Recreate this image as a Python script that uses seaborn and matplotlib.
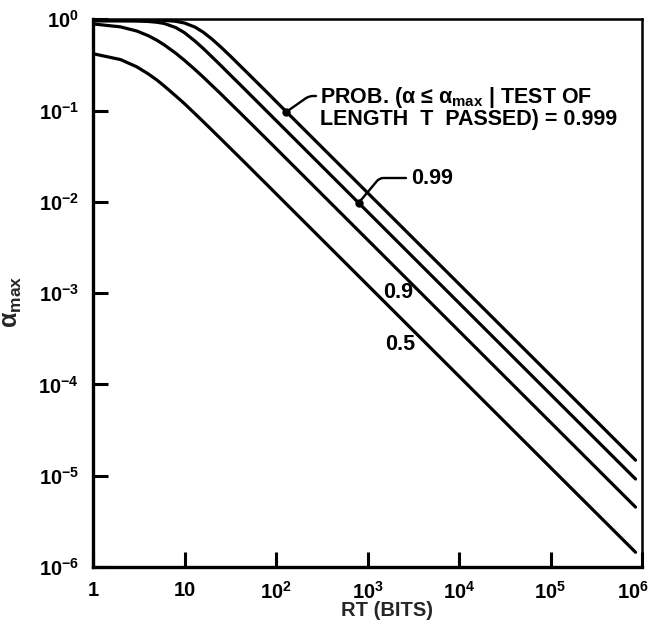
import numpy as np
import pandas as pd
import matplotlib
matplotlib.use("Agg")
import matplotlib.pyplot as plt
import matplotlib.transforms as mtransforms
from matplotlib.ticker import NullLocator, FixedLocator, FixedFormatter
import seaborn as sns

# ---- data ----
RT = [1, 2, 3, 4, 5, 6, 8, 10, 13, 16, 20, 25, 32, 40, 50, 65, 80, 100,
      1e3, 1e4, 1e5, 8.5e5]
alpha_p999 = [0.985, 0.985, 0.984, 0.983, 0.979, 0.974, 0.951, 0.910, 0.822, 0.723,
              0.606, 0.496, 0.392, 0.314, 0.252, 0.194, 0.158, 0.126,
              1.26e-2, 1.26e-3, 1.26e-4, 1.48e-5]
alpha_p99 = [0.960, 0.959, 0.956, 0.947, 0.928, 0.900, 0.813, 0.713, 0.578, 0.480,
             0.387, 0.311, 0.243, 0.195, 0.156, 0.120, 0.0975, 0.078,
             7.8e-3, 7.8e-4, 7.8e-5, 9.2e-6]
alpha_p9 = [0.890, 0.826, 0.745, 0.663, 0.589, 0.525, 0.426, 0.355, 0.282, 0.233,
            0.188, 0.152, 0.119, 0.0957, 0.0767, 0.0591, 0.0481, 0.0385,
            3.85e-3, 3.85e-4, 3.85e-5, 4.53e-6]
alpha_p5 = [0.420, 0.362, 0.302, 0.253, 0.216, 0.186, 0.145, 0.119, 0.0926, 0.0758,
            0.0609, 0.0489, 0.0383, 0.0307, 0.0246, 0.0189, 0.0154, 0.0123,
            1.23e-3, 1.23e-4, 1.23e-5, 1.45e-6]
prob_levels = ["0.999", "0.99", "0.9", "0.5"]

x_ticks = [1, 10, 100, 1e3, 1e4, 1e5, 1e6]
x_ticklabels = ["1", "10", "$10^2$", "$10^3$", "$10^4$", "$10^5$", "$10^6$"]
y_ticks = [1e-6, 1e-5, 1e-4, 1e-3, 1e-2, 1e-1, 1]
y_ticklabels = ["$10^{-6}$", "$10^{-5}$", "$10^{-4}$", "$10^{-3}$",
                "$10^{-2}$", "$10^{-1}$", "$10^0$"]

series = {"0.999": alpha_p999, "0.99": alpha_p99, "0.9": alpha_p9, "0.5": alpha_p5}
df = pd.DataFrame({
    "RT": RT * len(series),
    "alpha": sum((series[k] for k in prob_levels), []),
    "P": sum(([k] * len(RT) for k in prob_levels), []),
})

sns.set_theme(style="ticks")
plt.rcParams.update({
    "font.family": ["Liberation Sans", "DejaVu Sans"],
    "font.weight": "bold",
    "mathtext.fontset": "custom",
    "mathtext.rm": "Liberation Sans:bold",
    "mathtext.it": "Liberation Sans:italic:bold",
    "mathtext.bf": "Liberation Sans:bold",
    "mathtext.default": "regular",
    "axes.unicode_minus": True,
})

W, H = 653, 623
fig = plt.figure(figsize=(W / 100, H / 100), dpi=100)
fig.patch.set_facecolor("white")
ax = fig.add_axes([93 / W, 56 / H, 549 / W, 547.7 / H])
ax.set_facecolor("white")
ax.set_xscale("log")
ax.set_yscale("log")

sns.lineplot(data=df, x="RT", y="alpha", hue="P", hue_order=prob_levels,
             palette={k: "black" for k in prob_levels}, estimator=None,
             legend=False, linewidth=2.3, ax=ax)

ax.set_xlim(1, 1e6)
ax.set_ylim(1e-6, 1)
ax.xaxis.set_major_locator(FixedLocator(x_ticks))
ax.xaxis.set_major_formatter(FixedFormatter(x_ticklabels))
ax.yaxis.set_major_locator(FixedLocator(y_ticks))
ax.yaxis.set_major_formatter(FixedFormatter(y_ticklabels))
ax.xaxis.set_minor_locator(NullLocator())
ax.yaxis.set_minor_locator(NullLocator())
ax.tick_params(axis="both", which="major", direction="in", length=11, width=2.2,
               pad=10, labelsize=14.5, colors="black")
for s in ["left", "bottom"]:
    ax.spines[s].set_linewidth(2.4)
for s in ["top", "right"]:
    ax.spines[s].set_linewidth(1.8)
for s in ax.spines.values():
    s.set_color("black")

# nudge the last x label so it stays inside the image
last = ax.get_xticklabels()[-1]
last.set_transform(last.get_transform() +
                   mtransforms.ScaledTranslation(-9 / 100, 0, fig.dpi_scale_trans))

ax.set_xlabel("RT (BITS)", fontsize=14.5, fontweight="bold")
ax.xaxis.set_label_coords(0.535, -0.062)
ax.set_ylabel(r"α$_{max}$", fontsize=18, fontweight="bold")
ax.yaxis.set_label_coords(-0.125, 0.485)


def on_curve(vals, rt):
    return 10 ** np.interp(np.log10(rt), np.log10(RT), np.log10(vals))


def px(x, y):
    return (x / W, 1 - y / H)


# leader for 0.999
rt1 = 130
a1 = on_curve(alpha_p999, rt1)
ax.annotate("", xy=(rt1, a1), xycoords="data", xytext=(316, H - 96),
            textcoords="figure pixels",
            arrowprops=dict(arrowstyle="-", color="black", lw=1.7, shrinkA=0, shrinkB=0,
                            connectionstyle="angle,angleA=0,angleB=35,rad=4"))
ax.plot([rt1], [a1], "o", color="black", ms=5)

# leader for 0.99
rt2 = 800
a2 = on_curve(alpha_p99, rt2)
ax.annotate("", xy=(rt2, a2), xycoords="data", xytext=(406, H - 178),
            textcoords="figure pixels",
            arrowprops=dict(arrowstyle="-", color="black", lw=1.7, shrinkA=0, shrinkB=0,
                            connectionstyle="angle,angleA=0,angleB=50,rad=4"))
ax.plot([rt2], [a2], "o", color="black", ms=5)

tkw = dict(ha="left", va="center", fontsize=15.5, fontweight="bold", color="black")
fig.text(*px(320, 97), r"PROB. (α ≤ α$_{max}$ | TEST OF", **tkw)
fig.text(*px(320, 119), "LENGTH  T  PASSED) = 0.999", **tkw)
fig.text(*px(411, 178), "0.99", **tkw)
fig.text(*px(383, 293), "0.9", **tkw)
fig.text(*px(385, 344), "0.5", **tkw)

fig.savefig("out.png", dpi=100, facecolor="white")
